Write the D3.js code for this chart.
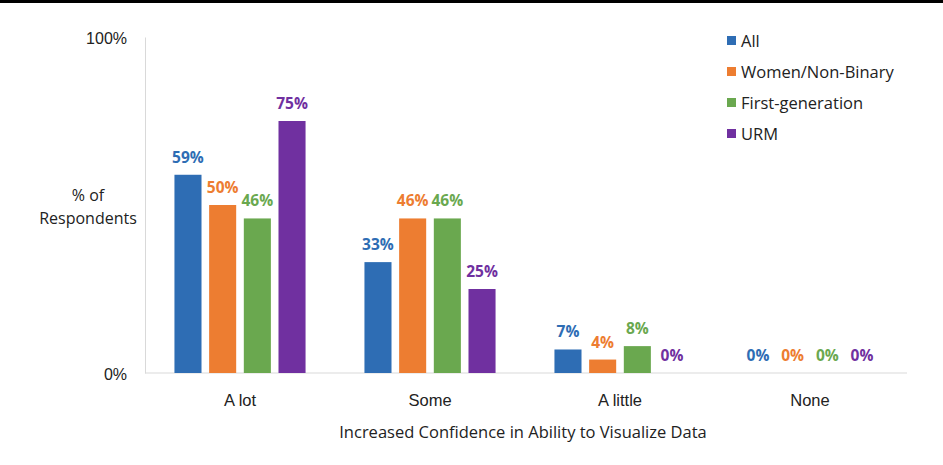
<!DOCTYPE html>
<html>
  <head>
    <meta charset="utf-8">
    <title>Increased confidence in ability to visualize data</title>
    <script src="https://d3js.org/d3.v7.min.js"></script>
    <style>
      body { margin: 0; background: #fff; }
      svg { font-family: "Open Sans", "Noto Sans", sans-serif; }
      .axis path, .axis line { stroke: #d9d9d9; }
      .axis text { font-size: 16px; fill: #222; }
      .value { font-size: 15.5px; font-weight: bold; text-anchor: middle; }
      .legend text { font-size: 16.5px; fill: #222; }
    </style>
  </head>
  <body>
    <svg id="chart" width="943" height="465"></svg>
    <script>
      // chart data
      var categories = ["A lot", "Some", "A little", "None"];
      var series = ["All", "Women/Non-Binary", "First-generation", "URM"];
      var colors = ["#2e6db4", "#ed7d31", "#6aa84f", "#7030a0"];
      var values = {
        "All": [59, 33, 7, 0],
        "Women/Non-Binary": [50, 46, 4, 0],
        "First-generation": [46, 46, 8, 0],
        "URM": [75, 25, 0, 0]
      };
      var yTicks = [0, 100];

      var chart = d3.select("#chart");
      var margin = { top: 37, left: 145, right: 38, bottom: 92 };
      var width = 943, height = 465;

      // top rule
      chart.append("rect")
        .attr("x", 0).attr("y", 0)
        .attr("width", width).attr("height", 3)
        .attr("fill", "#000");

      var x0 = d3.scaleBand()
        .domain(categories)
        .range([margin.left, width - margin.right])
        .paddingInner(0.31)
        .paddingOuter(0.155);
      var x1 = d3.scaleBand()
        .domain(series)
        .range([0, x0.bandwidth()])
        .paddingInner(0.22);
      var y = d3.scaleLinear()
        .domain([0, 100])
        .range([height - margin.bottom, margin.top]);
      var color = d3.scaleOrdinal().domain(series).range(colors);

      // axes
      chart.append("g")
        .attr("class", "axis")
        .attr("transform", "translate(" + margin.left + ",0)")
        .call(d3.axisLeft(y).tickValues(yTicks).tickSize(0).tickPadding(18)
          .tickFormat(function(d) { return d + "%"; }))
        .call(function(g) { g.selectAll("text").attr("dy", "0.4em"); });
      chart.append("g")
        .attr("class", "axis")
        .attr("transform", "translate(0," + (height - margin.bottom) + ")")
        .call(d3.axisBottom(x0).tickSize(0).tickPadding(21)
          .tickSizeOuter(0))
        .call(function(g) {
          g.select(".domain").attr("d", "M" + margin.left + ",0H" + (width - margin.right + 2));
          g.selectAll("text").style("font-size", "16.5px");
        });

      // bars
      var rows = [];
      categories.forEach(function(c, i) {
        series.forEach(function(s) {
          rows.push({ cat: c, s: s, v: values[s][i] });
        });
      });
      var groups = chart.append("g");
      groups.selectAll("rect")
        .data(rows)
        .enter().append("rect")
          .attr("x", function(d) { return x0(d.cat) + x1(d.s); })
          .attr("y", function(d) { return y(d.v); })
          .attr("width", x1.bandwidth())
          .attr("height", function(d) { return y(0) - y(d.v); })
          .attr("fill", function(d) { return color(d.s); });
      groups.selectAll(".value")
        .data(rows)
        .enter().append("text")
          .attr("class", "value")
          .attr("x", function(d) { return x0(d.cat) + x1(d.s) + x1.bandwidth() / 2; })
          .attr("y", function(d) { return y(d.v) - 12; })
          .attr("fill", function(d) { return color(d.s); })
          .text(function(d) { return d.v + "%"; });

      // axis titles
      chart.append("text")
        .attr("x", 88).attr("y", 201)
        .attr("text-anchor", "middle")
        .style("font-size", "16px").attr("fill", "#222")
        .selectAll("tspan")
          .data(["% of", "Respondents"])
          .enter().append("tspan")
            .attr("x", 88)
            .attr("dy", function(d, i) { return i ? 23 : 0; })
            .text(function(d) { return d; });
      chart.append("text")
        .attr("x", 523).attr("y", 438)
        .attr("text-anchor", "middle")
        .style("font-size", "16.5px").attr("fill", "#222")
        .text("Increased Confidence in Ability to Visualize Data");

      // legend
      var legend = chart.append("g")
        .attr("class", "legend")
        .attr("transform", "translate(727,41)");
      var item = legend.selectAll("g")
        .data(series)
        .enter().append("g")
          .attr("transform", function(d, i) { return "translate(0," + (i * 31) + ")"; });
      item.append("rect")
        .attr("x", 0).attr("y", -5)
        .attr("width", 9).attr("height", 9)
        .attr("fill", function(d) { return color(d); });
      item.append("text")
        .attr("x", 14).attr("dy", "0.35em")
        .text(function(d) { return d; });
    </script>
  </body>
</html>
